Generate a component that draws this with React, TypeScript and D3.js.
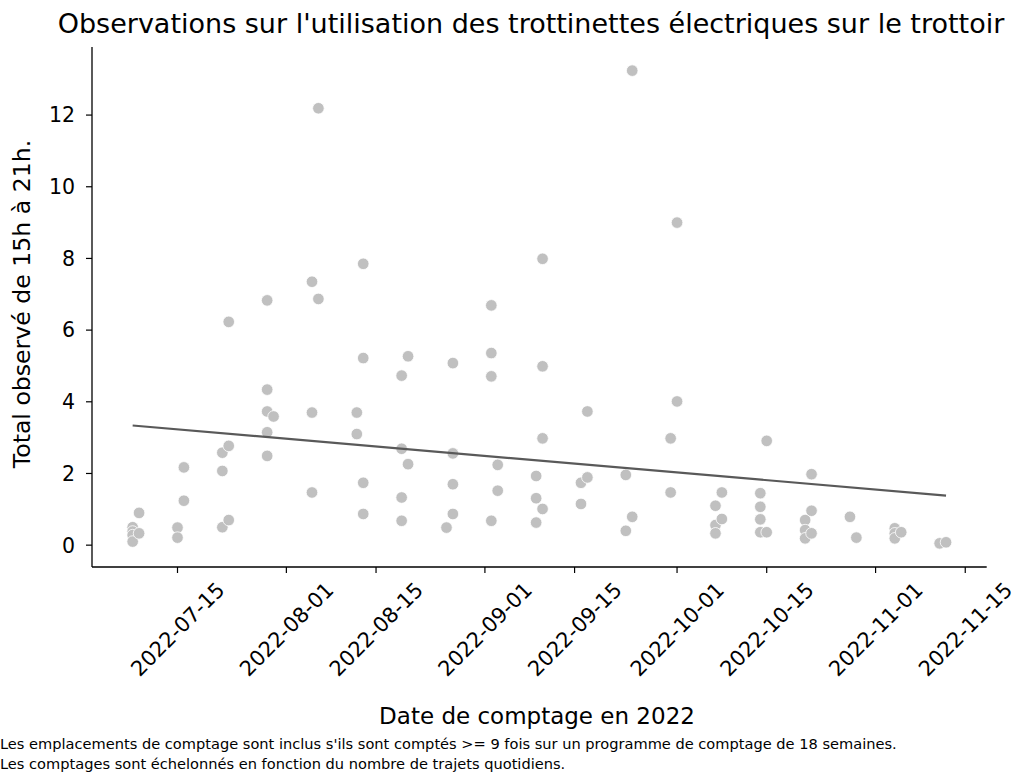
import React from "react";
import * as d3 from "d3";

const countDates = [
  "2022-07-08", "2022-07-09", "2022-07-15", "2022-07-16", "2022-07-22", "2022-07-23",
  "2022-07-29", "2022-07-30", "2022-08-05", "2022-08-06", "2022-08-12", "2022-08-13",
  "2022-08-19", "2022-08-20", "2022-08-26", "2022-08-27", "2022-09-02", "2022-09-03",
  "2022-09-09", "2022-09-10", "2022-09-16", "2022-09-17", "2022-09-23", "2022-09-24",
  "2022-09-30", "2022-10-01", "2022-10-07", "2022-10-08", "2022-10-14", "2022-10-15",
  "2022-10-21", "2022-10-22", "2022-10-28", "2022-10-29", "2022-11-04", "2022-11-05",
  "2022-11-11", "2022-11-12",
];

const countValues = [
  [0.5, 0.38, 0.28, 0.1], [0.9, 0.33], [0.49, 0.21], [2.17, 1.24], [2.58, 2.07, 0.5], [6.23, 2.77, 0.7],
  [6.83, 4.34, 3.73, 3.15, 2.49], [3.59], [7.35, 3.7, 1.47], [12.19, 6.87], [3.7, 3.1], [7.85, 5.22, 1.74, 0.87],
  [4.73, 2.69, 1.33, 0.68], [5.27, 2.26], [0.49], [5.08, 2.56, 1.7, 0.87], [6.69, 5.36, 4.71, 0.68], [2.24, 1.52],
  [1.93, 1.31, 0.63], [7.99, 4.99, 2.98, 1.01], [1.74, 1.15], [3.73, 1.89], [1.96, 0.4], [13.24, 0.79],
  [2.98, 1.47], [9.0, 4.01], [1.1, 0.56, 0.33], [1.47, 0.73], [1.45, 1.07, 0.72, 0.36], [2.91, 0.36],
  [0.7, 0.42, 0.19], [1.98, 0.96, 0.33], [0.79], [0.21], [0.47, 0.33, 0.19], [0.36],
  [0.05], [0.08],
];

const xTickLabels = [
  "2022-07-15", "2022-08-01", "2022-08-15", "2022-09-01", "2022-09-15",
  "2022-10-01", "2022-10-15", "2022-11-01", "2022-11-15",
];
const yTickValues = [0, 2, 4, 6, 8, 10, 12];

const titleText = "Observations sur l'utilisation des trottinettes électriques sur le trottoir";
const xLabelText = "Date de comptage en 2022";
const yLabelText = "Total observé de 15h à 21h.";
const noteLines = [
  "Les emplacements de comptage sont inclus s'ils sont comptés >= 9 fois sur un programme de comptage de 18 semaines.",
  "Les comptages sont échelonnés en fonction du nombre de trajets quotidiens.",
];

const W = 1026;
const H = 775;
const left = 92;
const right = 986.7;
const top = 47;
const bottom = 567;
const FONT = "'DejaVu Sans', sans-serif";

const parse = d3.utcParse("%Y-%m-%d");

export default function App() {
  const points = countDates.flatMap((d, i) =>
    countValues[i].map((v) => ({ date: parse(d) as Date, value: v }))
  );
  const [dMin, dMax] = d3.extent(points, (p) => p.date.getTime()) as [number, number];
  const dPad = (dMax - dMin) * 0.05;
  const [vMin, vMax] = d3.extent(points, (p) => p.value) as [number, number];
  const vPad = (vMax - vMin) * 0.05;

  const x = d3.scaleUtc().domain([new Date(dMin - dPad), new Date(dMax + dPad)]).range([left, right]);
  const y = d3.scaleLinear().domain([vMin - vPad, vMax + vPad]).range([bottom, top]);

  // ordinary least squares trend
  const xs = points.map((p) => p.date.getTime());
  const ys = points.map((p) => p.value);
  const mx = d3.mean(xs) as number;
  const my = d3.mean(ys) as number;
  const sxy = d3.sum(xs, (xv, i) => (xv - mx) * (ys[i] - my));
  const sxx = d3.sum(xs, (xv) => (xv - mx) * (xv - mx));
  const slope = sxy / sxx;
  const fit = (t: number) => my + slope * (t - mx);
  const trend = [dMin, dMax].map((t) => ({ t, v: fit(t) }));
  const lineGen = d3
    .line<{ t: number; v: number }>()
    .x((d) => x(new Date(d.t)))
    .y((d) => y(d.v));

  return (
    <svg
      width={W}
      height={H}
      style={{ position: "absolute", left: 0, top: 0, background: "#fff" }}
      fontFamily={FONT}
    >
      <rect width={W} height={H} fill="#fff" />
      <text x={531} y={33} textAnchor="middle" fontSize={27} fill="#000">
        {titleText}
      </text>

      {points.map((p, i) => (
        <circle
          key={i}
          cx={x(p.date)}
          cy={y(p.value)}
          r={5.8}
          fill="#c0c0c0"
          stroke="#fff"
          strokeWidth={0.8}
        />
      ))}

      <path d={lineGen(trend) || ""} fill="none" stroke="#595959" strokeWidth={2.2} />

      {/* axes */}
      <line x1={left} x2={left} y1={top} y2={bottom} stroke="#000" strokeWidth={1.3} />
      <line x1={left} x2={right} y1={bottom} y2={bottom} stroke="#000" strokeWidth={1.3} />

      {yTickValues.map((v) => (
        <g key={v}>
          <line x1={left - 6} x2={left} y1={y(v)} y2={y(v)} stroke="#000" strokeWidth={1.2} />
          <text x={left - 17} y={y(v)} dy="0.36em" textAnchor="end" fontSize={20.5} fill="#000">
            {v}
          </text>
        </g>
      ))}

      {xTickLabels.map((s) => {
        const tx = x(parse(s) as Date);
        return (
          <g key={s}>
            <line x1={tx} x2={tx} y1={bottom} y2={bottom + 6} stroke="#000" strokeWidth={1.2} />
            <text
              transform={`translate(${tx},${629}) rotate(-45)`}
              textAnchor="middle"
              dy="0.36em"
              fontSize={21}
              fill="#000"
            >
              {s}
            </text>
          </g>
        );
      })}

      <text x={537} y={724} textAnchor="middle" fontSize={23} fill="#000">
        {xLabelText}
      </text>
      <text
        transform={`translate(${30},${304}) rotate(-90)`}
        textAnchor="middle"
        fontSize={23.6}
        fill="#000"
      >
        {yLabelText}
      </text>

      {noteLines.map((t, i) => (
        <text key={i} x={0} y={749} dy={i * 20} fontSize={14.6} fill="#000">
          {t}
        </text>
      ))}
    </svg>
  );
}
